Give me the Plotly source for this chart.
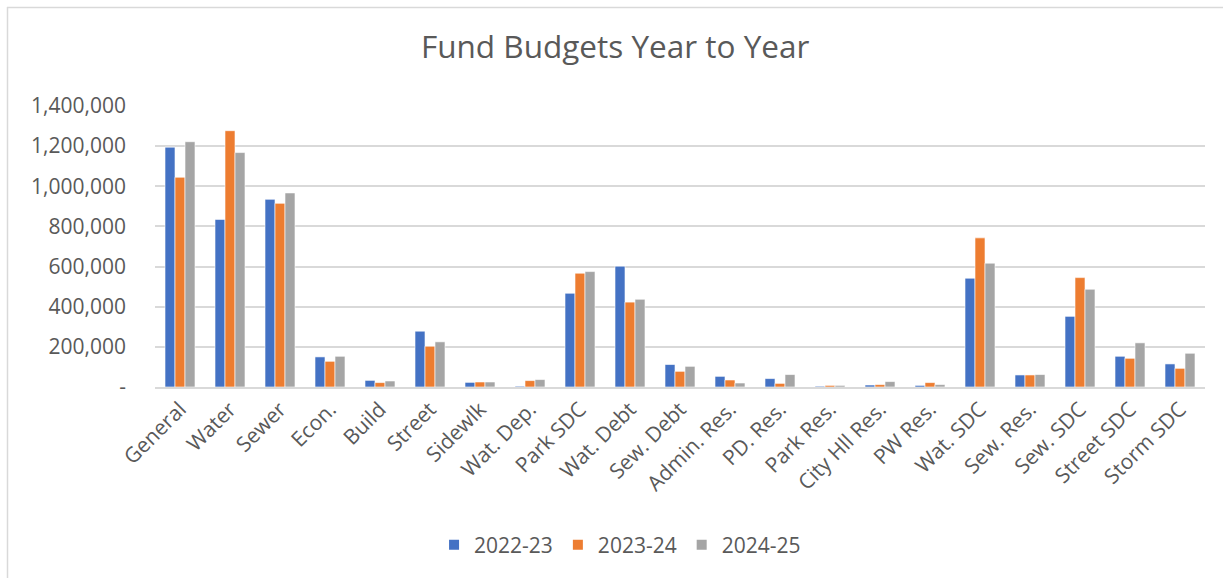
import plotly.graph_objects as go

categories = ["General", "Water", "Sewer", "Econ.", "Build", "Street", "Sidewlk",
              "Wat. Dep.", "Park SDC", "Wat. Debt", "Sew. Debt", "Admin. Res.",
              "PD. Res.", "Park Res.", "City Hll Res.", "PW Res.", "Wat. SDC",
              "Sew. Res.", "Sew. SDC", "Street SDC", "Storm SDC"]

fy_2022_23 = [1195000, 835000, 935000, 150000, 33000, 278000, 23000,
              4000, 467000, 602000, 112000, 53000, 42000, 4000, 10000, 8000,
              542000, 60000, 352000, 153000, 115000]
fy_2023_24 = [1045000, 1277000, 915000, 128000, 22000, 203000, 25000,
              32000, 567000, 423000, 78000, 35000, 18000, 8000, 12000, 22000,
              743000, 60000, 545000, 143000, 93000]
fy_2024_25 = [1222000, 1168000, 967000, 153000, 30000, 225000, 25000,
              37000, 575000, 437000, 103000, 20000, 62000, 8000, 27000, 12000,
              617000, 62000, 487000, 220000, 168000]

series_names = ["2022-23", "2023-24", "2024-25"]
series_values = [fy_2022_23, fy_2023_24, fy_2024_25]
colors = ["#4472C4", "#ED7D31", "#A5A5A5"]

y_tickvals = [0, 200000, 400000, 600000, 800000, 1000000, 1200000, 1400000]
y_ticktext = ["-", "200,000", "400,000", "600,000", "800,000", "1,000,000", "1,200,000", "1,400,000"]

FONT = "Open Sans"
TXT = "#595959"

fig = go.Figure()
for name, vals, col in zip(series_names, series_values, colors):
    fig.add_trace(go.Bar(x=categories, y=vals, name=name,
                         marker=dict(color=col, line=dict(color="white", width=0.6))))

W, H = 1223, 578
L, R, T, B = 155, 18, 106, 191

fig.update_layout(
    width=W, height=H,
    margin=dict(l=L, r=R, t=T, b=B, pad=0),
    paper_bgcolor="white", plot_bgcolor="white",
    barmode="group", bargap=0.4, bargroupgap=0.0,
    font=dict(family=FONT, color=TXT, size=21),
    title=dict(text="Fund Budgets Year to Year", x=0.503, xref="container", xanchor="center",
               y=1 - 47 / H, yref="container", yanchor="middle",
               font=dict(family=FONT, size=31.5, color=TXT)),
    showlegend=True,
    legend=dict(orientation="h", x=0.507, xref="container", xanchor="center",
                y=1 - 545 / H, yref="container", yanchor="middle",
                font=dict(family=FONT, size=21, color=TXT),
                itemsizing="constant", traceorder="normal", tracegroupgap=0),
    xaxis=dict(tickangle=-45, showgrid=False, showline=True, linecolor="#D9D9D9",
               linewidth=1.5, ticks="", tickfont=dict(family=FONT, size=21, color=TXT)),
    yaxis=dict(range=[0, 1400000], tickvals=y_tickvals, ticktext=y_ticktext,
               showgrid=True, gridcolor="#D9D9D9", gridwidth=1.5, zeroline=False,
               ticks="", ticklabelstandoff=28,
               tickfont=dict(family=FONT, size=21, color=TXT)),
    shapes=[
        dict(type="line", xref="paper", yref="paper",
             x0=(7 - L) / (W - L - R), x1=(1223 - L) / (W - L - R),
             y0=1 + (T - 7.5) / (H - T - B), y1=1 + (T - 7.5) / (H - T - B),
             line=dict(color="#D9D9D9", width=1.5)),
        dict(type="line", xref="paper", yref="paper",
             x0=(7.5 - L) / (W - L - R), x1=(7.5 - L) / (W - L - R),
             y0=1 + (T - 7) / (H - T - B), y1=-(B + 2) / (H - T - B),
             line=dict(color="#D9D9D9", width=1.5)),
    ],
)

fig.write_html("out.html", config={"displayModeBar": False},
               post_script="document.body.style.margin='0';document.body.style.padding='0';document.body.style.overflow='hidden';")
